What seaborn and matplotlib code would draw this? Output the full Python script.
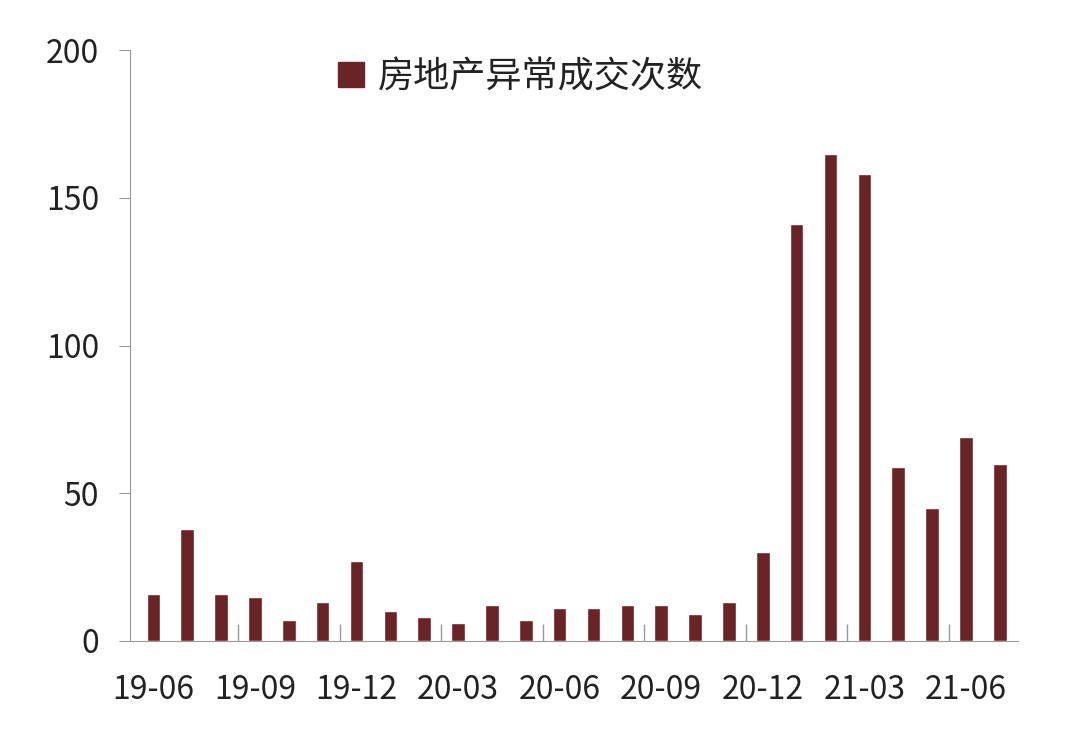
import matplotlib
matplotlib.use("Agg")
import matplotlib.pyplot as plt
import seaborn as sns
import pandas as pd
from matplotlib.patches import Patch

months = ["19-06","19-07","19-08","19-09","19-10","19-11","19-12","20-01","20-02","20-03",
          "20-04","20-05","20-06","20-07","20-08","20-09","20-10","20-11","20-12","21-01",
          "21-02","21-03","21-04","21-05","21-06","21-07"]
values = [16,38,16,15,7,13,27,10,8,6,12,7,11,11,12,12,9,13,30,141,165,158,59,45,69,60]
series_name = "房地产异常成交次数"
color = "#6B2426"

sns.set_style("white")
plt.rcParams['font.family'] = ['Noto Sans CJK SC', 'DejaVu Sans']

df = pd.DataFrame({"month": months, "value": values})
fig = plt.figure(figsize=(10.8, 7.29), dpi=100)
ax = fig.add_axes([0.12, 0.121, 0.823, 0.81])
sns.barplot(data=df, x="month", y="value", color=color, width=0.4, ax=ax, saturation=1)

ax.set_xlim(-0.7, len(months) - 0.45)
ax.set_ylim(0, 200)
ax.set_yticks([0, 50, 100, 150, 200])
ax.set_xticks(range(0, len(months), 3))
ax.set_xticklabels(months[::3])
ax.set_xticks([i + 2.5 for i in range(0, len(months) - 3, 3)], minor=True)
ax.tick_params(axis='x', which='minor', bottom=True, direction='in', length=12, color='#999999', width=1)
ax.tick_params(axis='x', which='major', length=0, labelsize=23, pad=24, labelcolor='#222222')
ax.tick_params(axis='y', which='major', direction='out', length=8, color='#999999', labelsize=23,
               left=True, pad=14, labelcolor='#222222')
ax.set_xlabel("")
ax.set_ylabel("")
for s in ["top", "right"]:
    ax.spines[s].set_visible(False)
for s in ["left", "bottom"]:
    ax.spines[s].set_color("#999999")
ax.legend(handles=[Patch(color=color, label=series_name)], loc="upper center",
          bbox_to_anchor=(0.44, 1.04), frameon=False, fontsize=26,
          handlelength=0.7, handleheight=0.7, handletextpad=0.4, labelcolor='#222222')
fig.savefig("out.png", dpi=100)
